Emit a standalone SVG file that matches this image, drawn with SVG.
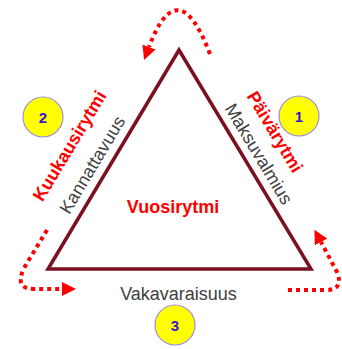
<svg xmlns="http://www.w3.org/2000/svg" width="342" height="349" viewBox="0 0 342 349">
<defs>
<style>
.lbl{font-family:"Liberation Sans",Arial,sans-serif;font-size:18px;fill:#404040}
.red{font-family:"Liberation Sans",Arial,sans-serif;font-size:18px;font-weight:bold;fill:#ff0000}
.num{font-family:"Liberation Sans",Arial,sans-serif;font-size:15px;font-weight:bold;fill:#3a14d0}
.badge{fill:#ffff00;stroke:#9f8ae6;stroke-width:1.2}
.dots{fill:none;stroke:#ff0000;stroke-width:4;stroke-dasharray:4 4}
</style>
<marker id="ah" markerWidth="14" markerHeight="14" refX="0" refY="7" orient="auto" markerUnits="userSpaceOnUse">
<path d="M0,0 L14,7 L0,14 z" fill="#ff0000"/>
</marker>
</defs>
<rect width="342" height="349" fill="#ffffff"/>
<g id="triangle">
<polygon points="179,50 311,269 48,269" fill="#ffffff" stroke="#7a1020" stroke-width="3.5" stroke-linejoin="miter"/>
<text class="red" x="173" y="213" text-anchor="middle">Vuosirytmi</text>
</g>
<g id="connectors">
<path class="dots" d="M 210 54 Q 178 -30 149 47" marker-end="url(#ah)"/>
<path class="dots" d="M 47 230 L 24 268 Q 14 289 34 289 L 62 289" marker-end="url(#ah)"/>
<path class="dots" d="M 288 290 L 326 290 Q 344 290 337 272 L 321 242" marker-end="url(#ah)"/>
</g>
<g id="node1">
<circle class="badge" cx="299" cy="116" r="20"/>
<text class="num" x="299" y="121.5" text-anchor="middle">1</text>
<text class="red" transform="translate(269.7,135) rotate(59)" text-anchor="middle">Päivärytmi</text>
<text class="lbl" transform="translate(253.5,157) rotate(59)" text-anchor="middle">Maksuvalmius</text>
</g>
<g id="node2">
<circle class="badge" cx="43" cy="117" r="20"/>
<text class="num" x="43" y="122.5" text-anchor="middle">2</text>
<text class="red" transform="translate(74.8,149) rotate(-59)" text-anchor="middle">Kuukausirytmi</text>
<text class="lbl" transform="translate(97.5,168) rotate(-59)" text-anchor="middle">Kannattavuus</text>
</g>
<g id="node3">
<circle class="badge" cx="175" cy="325" r="20"/>
<text class="num" x="175" y="330.5" text-anchor="middle">3</text>
<text class="lbl" x="178.5" y="300" text-anchor="middle">Vakavaraisuus</text>
</g>
</svg>
